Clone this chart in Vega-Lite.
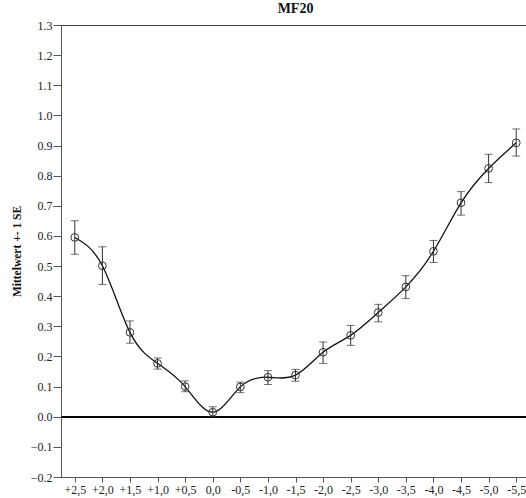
{
  "$schema": "https://vega.github.io/schema/vega-lite/v6.json",
  "autosize": "none",
  "width": 469,
  "height": 452,
  "padding": {"left": 61, "top": 25, "right": 0, "bottom": 21},
  "background": "white",
  "config": {
    "view": {"stroke": "#444", "strokeWidth": 1},
    "font": "Liberation Serif",
    "axisY": {"labelOverlap": false, "labelBound": false},
    "axisX": {"labelOverlap": false, "labelBound": false}
  },
  "title": {"text": "MF20", "font": "Liberation Serif", "fontSize": 14, "fontWeight": "bold", "color": "#111", "offset": 3},
  "data": {"values": [
    {"x": "+2,5", "mean": 0.595, "lo": 0.539, "hi": 0.650},
    {"x": "+2,0", "mean": 0.501, "lo": 0.439, "hi": 0.564},
    {"x": "+1,5", "mean": 0.280, "lo": 0.244, "hi": 0.318},
    {"x": "+1,0", "mean": 0.177, "lo": 0.158, "hi": 0.195},
    {"x": "+0,5", "mean": 0.100, "lo": 0.083, "hi": 0.119},
    {"x": "0,0", "mean": 0.015, "lo": 0.000, "hi": 0.033},
    {"x": "-0,5", "mean": 0.099, "lo": 0.080, "hi": 0.115},
    {"x": "-1,0", "mean": 0.131, "lo": 0.107, "hi": 0.153},
    {"x": "-1,5", "mean": 0.138, "lo": 0.118, "hi": 0.157},
    {"x": "-2,0", "mean": 0.214, "lo": 0.177, "hi": 0.248},
    {"x": "-2,5", "mean": 0.270, "lo": 0.237, "hi": 0.303},
    {"x": "-3,0", "mean": 0.346, "lo": 0.315, "hi": 0.373},
    {"x": "-3,5", "mean": 0.431, "lo": 0.392, "hi": 0.468},
    {"x": "-4,0", "mean": 0.549, "lo": 0.512, "hi": 0.585},
    {"x": "-4,5", "mean": 0.710, "lo": 0.669, "hi": 0.747},
    {"x": "-5,0", "mean": 0.824, "lo": 0.777, "hi": 0.871},
    {"x": "-5,5", "mean": 0.909, "lo": 0.865, "hi": 0.955}
  ]},
  "encoding": {
    "x": {
      "field": "x", "type": "ordinal", "sort": null,
      "scale": {"type": "point", "padding": 0.5},
      "axis": {"title": null, "labelAngle": 0, "tickSize": 5, "labelPadding": 2, "domainColor": "#555", "tickColor": "#555", "labelColor": "#222", "labelFont": "Liberation Serif", "labelFontSize": 12}
    },
    "y": {
      "field": "mean", "type": "quantitative",
      "scale": {"domain": [-0.2, 1.3], "nice": false, "zero": false},
      "axis": {
        "title": "Mittelwert +- 1 SE", "titleFont": "Liberation Serif", "titleFontSize": 11.5, "titleFontWeight": "bold", "titleColor": "#111", "titlePadding": 8,
        "values": [-0.2, -0.1, 0, 0.1, 0.2, 0.3, 0.4, 0.5, 0.6, 0.7, 0.8, 0.9, 1.0, 1.1, 1.2, 1.3],
        "format": ".1f", "grid": false, "tickSize": 8, "labelPadding": 1,
        "domainColor": "#555", "tickColor": "#555", "labelColor": "#222", "labelFont": "Liberation Serif", "labelFontSize": 12
      }
    }
  },
  "layer": [
    {
      "mark": {"type": "rule", "color": "#000", "strokeWidth": 1},
      "encoding": {"x": null, "y": {"datum": 0, "type": "quantitative", "title": "Mittelwert +- 1 SE"}}
    },
    {
      "mark": {"type": "line", "interpolate": "natural", "color": "#111", "strokeWidth": 1.3},
      "encoding": {}
    },
    {
      "mark": {"type": "rule", "color": "#333", "strokeWidth": 1},
      "encoding": {"y": {"field": "lo", "type": "quantitative", "title": "Mittelwert +- 1 SE"}, "y2": {"field": "hi"}}
    },
    {
      "mark": {"type": "tick", "orient": "horizontal", "color": "#333", "size": 8, "thickness": 1},
      "encoding": {"y": {"field": "lo", "type": "quantitative", "title": "Mittelwert +- 1 SE"}}
    },
    {
      "mark": {"type": "tick", "orient": "horizontal", "color": "#333", "size": 8, "thickness": 1},
      "encoding": {"y": {"field": "hi", "type": "quantitative", "title": "Mittelwert +- 1 SE"}}
    },
    {
      "mark": {"type": "point", "filled": false, "shape": "circle", "size": 60, "color": "#333", "strokeWidth": 1, "opacity": 1},
      "encoding": {}
    }
  ]
}
